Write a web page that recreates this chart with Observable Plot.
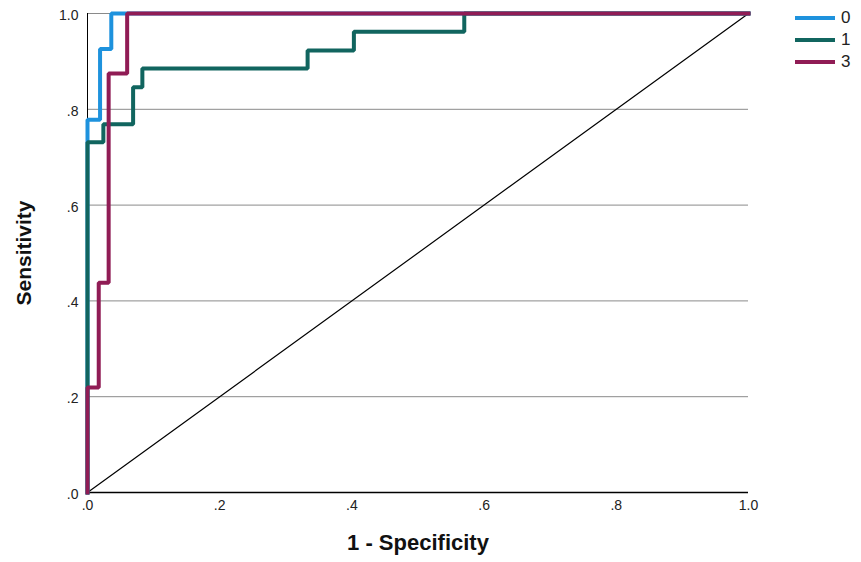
<!DOCTYPE html>
<html>
<head>
<meta charset="utf-8">
<script src="https://cdn.jsdelivr.net/npm/d3@7"></script>
<script src="https://cdn.jsdelivr.net/npm/@observablehq/plot@0.6"></script>
<style>
  html, body { margin: 0; padding: 0; background: #fff; }
  #wrap { position: relative; width: 861px; height: 562px; font-family: "Liberation Sans", Arial, sans-serif; }
  #legend { position: absolute; left: 795px; top: 7px; }
  .row { display: flex; align-items: center; height: 22px; }
  .sw { width: 40px; height: 4px; margin-right: 6px; }
  .lab { font-size: 17px; color: #222; line-height: 22px; }
</style>
</head>
<body>
<div id="wrap"></div>
<script>
// ---- data ----
const groups = ["0", "1", "3"];
const colors = ["#1e92dd", "#11655f", "#901c55"];

// ROC vertices (1 - specificity, sensitivity) per group
const fpr0 = [0, 0, 0.019, 0.019, 0.036, 0.036, 1];
const tpr0 = [0, 0.778, 0.778, 0.926, 0.926, 1, 1];

const fpr1 = [0, 0, 0.024, 0.024, 0.069, 0.069, 0.083, 0.083, 0.333, 0.333, 0.403, 0.403, 0.570, 0.570, 1];
const tpr1 = [0, 0.731, 0.731, 0.769, 0.769, 0.846, 0.846, 0.885, 0.885, 0.923, 0.923, 0.962, 0.962, 1, 1];

const fpr3 = [0, 0, 0.017, 0.017, 0.032, 0.032, 0.060, 0.060, 1];
const tpr3 = [0, 0.219, 0.219, 0.438, 0.438, 0.875, 0.875, 1, 1];

const refX = [0, 1];
const refY = [0, 1];

const xTicks = [0, 0.2, 0.4, 0.6, 0.8, 1.0];
const yTicks = [0, 0.2, 0.4, 0.6, 0.8, 1.0];
const gridTicks = [0.2, 0.4, 0.6, 0.8, 1.0];

const xTitle = "1 - Specificity";
const yTitle = "Sensitivity";

// ---- build table ----
const series = [[fpr0, tpr0], [fpr1, tpr1], [fpr3, tpr3]];
const rows = [];
series.forEach(([xs, ys], i) => {
  xs.forEach((x, j) => rows.push({group: groups[i], x, y: ys[j]}));
});
const ref = refX.map((x, i) => ({x, y: refY[i]}));

const fmt = d => d === 1 ? "1.0" : d3.format(".1f")(d).replace(/^0/, "");

const chart = Plot.plot({
  width: 861,
  height: 562,
  marginLeft: 87,
  marginRight: 113,
  marginTop: 13,
  marginBottom: 70,
  style: {fontFamily: "'Liberation Sans', Arial, sans-serif", background: "transparent"},
  x: {domain: [0, 1]},
  y: {domain: [0, 1]},
  color: {domain: groups, range: colors},
  marks: [
    Plot.gridY(gridTicks, {stroke: "#8a8a8a", strokeOpacity: 1, strokeWidth: 1}),
    Plot.ruleX([0], {stroke: "#000", strokeWidth: 1}),
    Plot.ruleY([0], {stroke: "#000", strokeWidth: 1.3}),
    Plot.line(ref, {x: "x", y: "y", stroke: "#000", strokeWidth: 1.2}),
    Plot.line(rows, {x: "x", y: "y", z: "group", stroke: "group", strokeWidth: 4, strokeLinejoin: "miter", strokeLinecap: "square"}),
    Plot.axisX(xTicks, {tickSize: 0, tickPadding: 8, tickFormat: fmt, fontSize: 14, fill: "#222", label: null}),
    Plot.axisY(yTicks, {tickSize: 0, tickPadding: 9, tickFormat: fmt, fontSize: 14, fill: "#222", dy: 2, label: null}),
    Plot.text([xTitle], {frameAnchor: "bottom", dy: 57, fontSize: 22, fontWeight: "bold", fill: "#111", textAnchor: "middle", style: "letter-spacing: 0.8px"}),
    Plot.text([yTitle], {frameAnchor: "left", dx: -63, rotate: -90, fontSize: 21, fontWeight: "bold", fill: "#111", textAnchor: "middle"})
  ]
});

const wrap = document.getElementById("wrap");
wrap.appendChild(chart);

// legend
const legend = document.createElement("div");
legend.id = "legend";
groups.forEach((g, i) => {
  const row = document.createElement("div");
  row.className = "row";
  const sw = document.createElement("div");
  sw.className = "sw";
  sw.style.background = colors[i];
  const lab = document.createElement("span");
  lab.className = "lab";
  lab.textContent = g;
  row.appendChild(sw);
  row.appendChild(lab);
  legend.appendChild(row);
});
wrap.appendChild(legend);
</script>
</body>
</html>
